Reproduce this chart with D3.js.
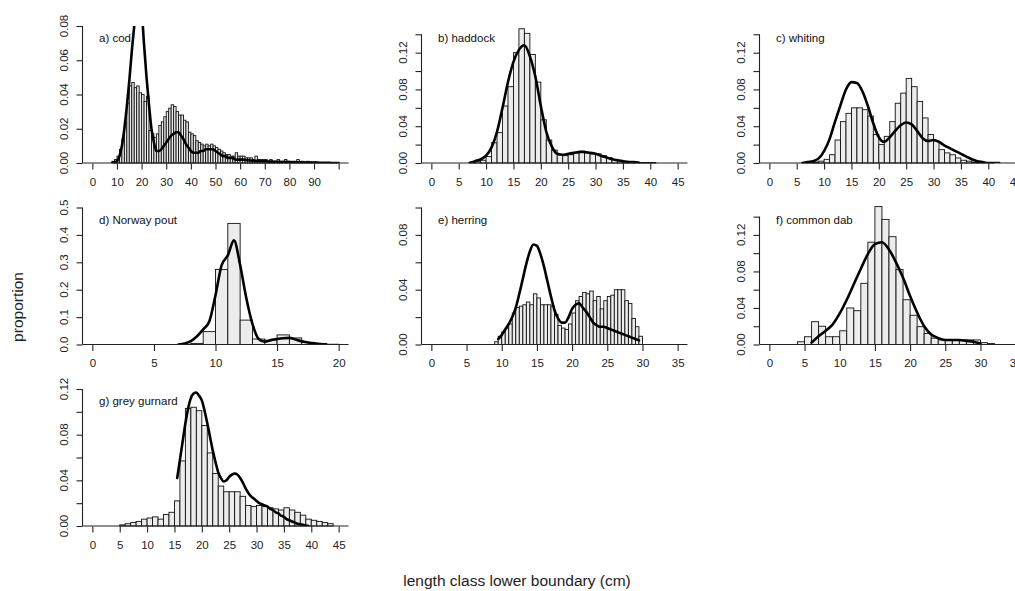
<!DOCTYPE html>
<html>
<head>
<meta charset="utf-8">
<title>Length distributions</title>
<script src="https://d3js.org/d3.v7.min.js"></script>
<style>
  body { margin: 0; background: #fff; }
  svg { display: block; font-family: "Liberation Sans", Arial, sans-serif; }
  .bar { fill: #ececec; stroke: #111; stroke-width: 0.9px; }
  .fit { fill: none; stroke: #000; stroke-width: 2.6px; stroke-linejoin: round; stroke-linecap: round; }
  .axis text { font-size: 11.5px; fill: #222; }
  .axis line, .frame { stroke: #222; stroke-width: 1.1px; }
  .title { font-size: 11.5px; fill: #111; }
  .lab { font-size: 15.5px; fill: #222; }
</style>
</head>
<body>
<div id="box"></div>
<script>
// panels in reading order
var species = ["a) cod", "b) haddock", "c) whiting", "d) Norway pout", "e) herring", "f) common dab", "g) grey gurnard"];

// histograms: lower boundary of first class, class width, proportions
var barStart = [8, 7, 6, 7, 9, 4, 5];
var barWidth = [1, 1, 1, 1, 0.5, 1, 1];
var codBars = [0.001, 0.002, 0.004, 0.008, 0.014, 0.024, 0.035, 0.045, 0.047, 0.044, 0.045, 0.041, 0.040, 0.036, 0.039,
  0.019, 0.017, 0.015, 0.017, 0.022, 0.024, 0.027, 0.030, 0.032, 0.034, 0.033, 0.030, 0.028, 0.028, 0.025, 0.024,
  0.018, 0.017, 0.016, 0.013, 0.012, 0.011, 0.010, 0.011, 0.010, 0.011, 0.010, 0.009, 0.008, 0.007, 0.006, 0.005,
  0.005, 0.004, 0.004, 0.006, 0.004, 0.004, 0.004, 0.003, 0.003, 0.003, 0.002, 0.004, 0.002, 0.002, 0.002, 0.002,
  0.001, 0.002, 0.001, 0.001, 0.002, 0.001, 0.001, 0.002, 0.001, 0.001, 0.001, 0.001, 0.002, 0.001, 0.001, 0.0005,
  0.001, 0.0005, 0.0005, 0.0005, 0.0005, 0.0003, 0.0003, 0.0003, 0.0003, 0.0002, 0.0002, 0.0002, 0.0002];
var haddockBars = [0.001, 0.002, 0.003, 0.007, 0.022, 0.033, 0.062, 0.083, 0.120, 0.146, 0.141, 0.118, 0.088, 0.047,
  0.025, 0.014, 0.009, 0.008, 0.009, 0.011, 0.013, 0.011, 0.010, 0.010, 0.008, 0.006, 0.004, 0.003, 0.002, 0.001,
  0.001, 0.0005, 0.0005, 0.0005];
var whitingBars = [0.0003, 0.0005, 0.001, 0.002, 0.004, 0.009, 0.025, 0.045, 0.054, 0.060, 0.060, 0.058, 0.051, 0.031,
  0.020, 0.029, 0.045, 0.065, 0.076, 0.092, 0.083, 0.067, 0.049, 0.031, 0.024, 0.0145, 0.011, 0.009, 0.0055, 0.003,
  0.002, 0.001, 0.0005, 0.0005, 0.0003];
var poutBars = [0.001, 0.004, 0.047, 0.274, 0.442, 0.089, 0.020, 0.016, 0.035, 0.024, 0.008, 0.003, 0.001];
var herringBars = [0.002, 0.006, 0.009, 0.012, 0.015, 0.023, 0.027, 0.028, 0.029, 0.031, 0.029, 0.037, 0.034, 0.029,
  0.029, 0.029, 0.028, 0.022, 0.014, 0.012, 0.011, 0.015, 0.023, 0.032, 0.035, 0.038, 0.037, 0.039, 0.032, 0.035,
  0.026, 0.032, 0.035, 0.036, 0.040, 0.040, 0.040, 0.032, 0.030, 0.019, 0.013, 0.006];
var dabBars = [0.003, 0.0085, 0.025, 0.020, 0.0085, 0.0085, 0.015, 0.040, 0.037, 0.067, 0.112, 0.151, 0.137, 0.118,
  0.082, 0.049, 0.032, 0.0195, 0.012, 0.007, 0.005, 0.005, 0.005, 0.005, 0.005, 0.005, 0.002, 0.001];
var gurnardBars = [0.001, 0.002, 0.003, 0.004, 0.006, 0.007, 0.008, 0.006, 0.010, 0.012, 0.022, 0.057, 0.103, 0.104,
  0.101, 0.088, 0.064, 0.046, 0.035, 0.030, 0.030, 0.030, 0.026, 0.018, 0.017, 0.018, 0.017, 0.016, 0.015, 0.014,
  0.016, 0.014, 0.012, 0.0095, 0.006, 0.005, 0.004, 0.003, 0.002];

// fitted curves: first length, step, values
var fitStart = [8, 7, 6, 7, 9.5, 6, 15.5];
var fitStep = [1, 1, 1, 0.5, 0.5, 1, 0.5];
var codFit = [0, 0.0005, 0.001, 0.004, 0.010, 0.020, 0.033, 0.048, 0.065, 0.080, 0.095, 0.101, 0.090, 0.069, 0.050,
  0.034, 0.020, 0.012, 0.007, 0.007, 0.008, 0.010, 0.012, 0.014, 0.016, 0.017, 0.018, 0.018, 0.016, 0.014, 0.011,
  0.009, 0.007, 0.006, 0.006, 0.006, 0.007, 0.007, 0.008, 0.008, 0.008, 0.008, 0.007, 0.006, 0.005, 0.004, 0.004,
  0.003, 0.003, 0.003, 0.002, 0.002, 0.002, 0.002, 0.0018, 0.0016, 0.0015, 0.0014, 0.0013, 0.0012, 0.0011, 0.001,
  0.001, 0.0009, 0.0008, 0.0008, 0.0007, 0.0007, 0.0006, 0.0006, 0.0005, 0.0005, 0.0005, 0.0004, 0.0004, 0.0004,
  0.0003, 0.0003, 0.0003, 0.0003, 0.0002, 0.0002, 0.0002, 0.0002, 0.0001, 0.0001, 0.0001, 0.0001, 0.0001, 0, 0, 0, 0];
var haddockFit = [0, 0.002, 0.004, 0.008, 0.017, 0.034, 0.060, 0.088, 0.110, 0.123, 0.128, 0.116, 0.094, 0.062, 0.034,
  0.018, 0.010, 0.009, 0.010, 0.011, 0.012, 0.012, 0.011, 0.010, 0.008, 0.006, 0.004, 0.003, 0.002, 0.001, 0.001, 0];
var whitingFit = [0, 0.001, 0.002, 0.005, 0.013, 0.026, 0.045, 0.063, 0.080, 0.088, 0.087, 0.078, 0.062, 0.043, 0.028,
  0.023, 0.028, 0.035, 0.041, 0.044, 0.042, 0.035, 0.027, 0.024, 0.025, 0.023, 0.019, 0.016, 0.013, 0.010, 0.007,
  0.004, 0.002, 0.001, 0, 0, 0];
var poutFit = [0, 0.004, 0.012, 0.030, 0.055, 0.085, 0.180, 0.290, 0.325, 0.380, 0.290, 0.170, 0.075, 0.020, 0.010,
  0.016, 0.020, 0.023, 0.024, 0.018, 0.012, 0.007, 0.004, 0.002, 0];
var herringFit = [0.004, 0.007, 0.011, 0.015, 0.020, 0.027, 0.037, 0.048, 0.059, 0.068, 0.073, 0.072, 0.066, 0.057,
  0.046, 0.035, 0.025, 0.019, 0.016, 0.016, 0.020, 0.026, 0.029, 0.030, 0.027, 0.024, 0.020, 0.016, 0.014, 0.013,
  0.013, 0.012, 0.011, 0.010, 0.009, 0.008, 0.007, 0.006, 0.005, 0.004, 0.003];
var dabFit = [0.002, 0.009, 0.015, 0.022, 0.034, 0.049, 0.066, 0.083, 0.099, 0.110, 0.112, 0.104, 0.090, 0.073, 0.053,
  0.035, 0.020, 0.011, 0.007, 0.005, 0.005, 0.005, 0.004, 0.003, 0.001];
var gurnardFit = [0.042, 0.058, 0.074, 0.090, 0.103, 0.112, 0.116, 0.117, 0.114, 0.110, 0.101, 0.090, 0.078, 0.066,
  0.056, 0.047, 0.042, 0.039, 0.040, 0.043, 0.045, 0.046, 0.045, 0.042, 0.038, 0.033, 0.029, 0.026, 0.024, 0.022,
  0.020, 0.019, 0.018, 0.017, 0.015, 0.014, 0.012, 0.011, 0.009, 0.008, 0.006, 0.005, 0.004, 0.003, 0.002, 0.0015,
  0.001, 0.0005, 0];

var bars = [codBars, haddockBars, whitingBars, poutBars, herringBars, dabBars, gurnardBars];
var fits = [codFit, haddockFit, whitingFit, poutFit, herringFit, dabFit, gurnardFit];

// axes
var xMax = [100, 45, 45, 20, 35, 35, 45];
var xStep = [10, 5, 5, 5, 5, 5, 5];
var xLabelMax = [90, 45, 45, 20, 35, 35, 45];
var yLim = [0.08, 0.149, 0.149, 0.5, 0.10, 0.15, 0.12];
var yTop = [0.08, 0.14, 0.14, 0.5, 0.10, 0.14, 0.12];
var yStep = [0.02, 0.02, 0.02, 0.1, 0.02, 0.02, 0.02];
var yLabelStep = [0.02, 0.04, 0.04, 0.1, 0.04, 0.04, 0.04];

var W = 1015, H = 591;
var colLeft = [82.5, 421.5, 759.5];
var rowBottom = [163, 344.5, 526];
var pw = 266, ph = 137;

var svg = d3.select('#box').append('svg').attr('width', W).attr('height', H);

species.forEach(function(name, i) {
	var L = colLeft[i % 3], B = rowBottom[Math.floor(i / 3)], T = B - ph;
	var pad = xMax[i] * 0.04;
	var x = d3.scaleLinear().domain([-pad, xMax[i] + pad]).range([L, L + pw]);
	var y = d3.scaleLinear().domain([0, yLim[i]]).range([B, T]);
	var g = svg.append('g');

	g.append('clipPath').attr('id', 'clip' + i)
		.append('rect').attr('x', L).attr('y', T).attr('width', pw).attr('height', ph);

	// histogram
	var bw = barWidth[i];
	g.append('g').selectAll('rect')
		.data(bars[i].map(function(v, k) { return { lo: barStart[i] + k * bw, v: v }; }))
		.enter().append('rect')
		.attr('class', 'bar')
		.attr('x', function(d) { return x(d.lo); })
		.attr('width', function(d) { return x(d.lo + bw) - x(d.lo); })
		.attr('y', function(d) { return y(d.v); })
		.attr('height', function(d) { return y(0) - y(d.v); });

	// fitted distribution
	var pts = fits[i].map(function(v, k) { return [fitStart[i] + k * fitStep[i], v]; });
	g.append('path')
		.attr('class', 'fit')
		.attr('clip-path', 'url(#clip' + i + ')')
		.attr('d', d3.line().x(function(d) { return x(d[0]); }).y(function(d) { return y(d[1]); })
			.curve(d3.curveMonotoneX)(pts));

	// frame: baseline across the region, y axis line up to the top tick
	g.append('line').attr('class', 'frame')
		.attr('x1', L).attr('x2', L + pw).attr('y1', B).attr('y2', B);
	g.append('line').attr('class', 'frame')
		.attr('x1', L).attr('x2', L).attr('y1', B).attr('y2', y(yTop[i]));

	// x axis
	var xt = d3.range(0, xMax[i] + xStep[i] / 2, xStep[i]);
	var xa = g.append('g').attr('class', 'axis')
		.attr('transform', 'translate(0,' + (B + 0.5) + ')')
		.call(d3.axisBottom(x).tickValues(xt).tickSize(6).tickPadding(8)
			.tickFormat(function(d) { return d <= xLabelMax[i] ? d : ''; }));
	xa.select('.domain').remove();

	// y axis, labels rotated like R
	var yt = d3.range(0, yTop[i] + yStep[i] / 2, yStep[i]);
	var ya = g.append('g').attr('class', 'axis')
		.attr('transform', 'translate(' + L + ',0)')
		.call(d3.axisLeft(y).tickValues(yt).tickSize(6).tickFormat(''));
	ya.select('.domain').remove();
	var digits = yStep[i] < 0.05 ? 2 : 1;
	ya.selectAll('.lbl')
		.data(yt.filter(function(v) { return Math.abs(v / yLabelStep[i] - Math.round(v / yLabelStep[i])) < 1e-6; }))
		.enter().append('text')
		.attr('text-anchor', 'middle')
		.attr('transform', function(v) { return 'translate(-15,' + y(v) + ') rotate(-90)'; })
		.text(function(v) { return v.toFixed(digits); });

	g.append('text').attr('class', 'title')
		.attr('x', L + 16.5).attr('y', T + 16)
		.text(name);
});

svg.append('text').attr('class', 'lab')
	.attr('text-anchor', 'middle')
	.attr('transform', 'translate(23,307) rotate(-90)')
	.text('proportion');
svg.append('text').attr('class', 'lab')
	.attr('text-anchor', 'middle')
	.attr('x', 517).attr('y', 586)
	.text('length class lower boundary (cm)');
</script>
</body>
</html>
